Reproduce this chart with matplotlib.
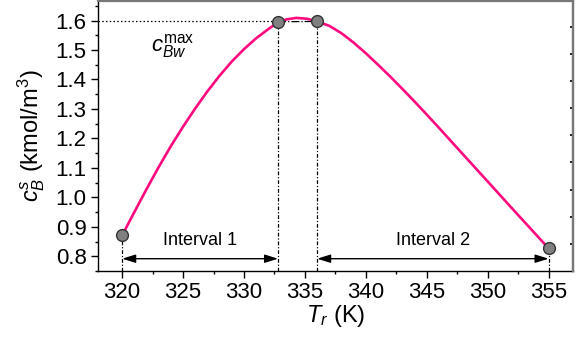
import matplotlib
matplotlib.use("Agg")
import matplotlib.pyplot as plt
from matplotlib.ticker import MultipleLocator

plt.rcParams['font.family'] = ['Liberation Sans', 'DejaVu Sans']
plt.rcParams['mathtext.fontset'] = 'custom'
plt.rcParams['mathtext.rm'] = 'Liberation Sans'
plt.rcParams['mathtext.it'] = 'Liberation Sans:italic'
plt.rcParams['mathtext.bf'] = 'Liberation Sans:bold'

# curve
curve_T = [320.0, 321.0, 322.0, 323.0, 324.0, 325.0, 326.0, 327.0, 328.0, 329.0, 330.0, 331.0,
           332.0, 332.8, 333.5, 334.3, 335.2, 336.0, 337.0, 338.0, 339.0, 340.0, 341.0, 342.0,
           343.0, 344.0, 345.0, 346.0, 347.6, 350.0, 352.5, 355.0]
curve_c = [0.871, 0.950, 1.028, 1.103, 1.174, 1.240, 1.302, 1.360, 1.413, 1.461, 1.503, 1.540,
           1.571, 1.594, 1.604, 1.609, 1.606, 1.597, 1.582, 1.557, 1.525, 1.489, 1.450, 1.410,
           1.368, 1.325, 1.281, 1.236, 1.163, 1.054, 0.940, 0.827]

# marked points
point_T = [320.0, 332.8, 336.0, 355.0]
point_c = [0.871, 1.596, 1.597, 0.827]

c_max = 1.6
arrow_y = 0.792
interval_labels = ["Interval 1", "Interval 2"]
x_ticks = [320, 325, 330, 335, 340, 345, 350, 355]
y_ticks = [0.8, 0.9, 1.0, 1.1, 1.2, 1.3, 1.4, 1.5, 1.6]

fig = plt.figure(figsize=(5.82, 3.38), dpi=100)
ax = fig.add_axes([0.168, 0.198, 0.8165, 0.8005])
xmin, xmax = 318, 357
ymin, ymax = 0.75, 1.668
ax.set_xlim(xmin, xmax)
ax.set_ylim(ymin, ymax)

pink = '#FF0A7F'
ax.plot(curve_T, curve_c, color=pink, lw=1.9, zorder=3, solid_joinstyle='round')

# reference lines
ax.plot([xmin, point_T[1]], [c_max, c_max], color='black', lw=0.9, ls=(0, (1.2, 1.8)), zorder=2)
ax.plot([point_T[1], point_T[2]], [point_c[1], point_c[2]], color='black', lw=0.9, ls='-.', zorder=2)
for t, c in zip(point_T, point_c):
    ax.plot([t, t], [ymin, c], color='black', lw=0.9, ls=(0, (3, 1.5, 1, 1.5)), zorder=2)

ax.plot(point_T, point_c, ls='none', marker='o', ms=8.5, mfc='#808080', mec='#333333', mew=1.0, zorder=4)

# interval arrows
for (a, b), lab in zip([(point_T[0], point_T[1]), (point_T[2], point_T[3])], interval_labels):
    ax.annotate('', xy=(b, arrow_y), xytext=(a, arrow_y),
                arrowprops=dict(arrowstyle='<|-|>,head_length=0.8,head_width=0.25',
                                color='black', lw=1.0, shrinkA=0, shrinkB=0))
    ax.text((a + b) / 2, arrow_y + 0.032, lab, ha='center', va='bottom', fontsize=13)

ax.text(322.4, 1.495, r'$c_{Bw}^{\mathrm{max}}$', fontsize=16, ha='left', va='baseline')

ax.set_xticks(x_ticks)
ax.set_yticks(y_ticks)
ax.set_yticklabels([f'{v:.1f}' for v in y_ticks])
ax.xaxis.set_minor_locator(MultipleLocator(2.5))
ax.yaxis.set_minor_locator(MultipleLocator(0.05))
ax.tick_params(axis='both', which='major', direction='out', length=5, width=1, labelsize=16, pad=3)
ax.tick_params(axis='both', which='minor', direction='out', length=2.5, width=1)
ax.tick_params(top=False, right=False)

ax.set_xlabel(r'$T_r$ (K)', fontsize=17, labelpad=0)
ax.set_ylabel(r'$c_B^s$ (kmol/m$^3$)', fontsize=17, labelpad=6)

for s in ['left', 'bottom']:
    ax.spines[s].set_linewidth(1.0)
for s in ['top', 'right']:
    ax.spines[s].set_linewidth(1.6)
    ax.spines[s].set_color('#777777')

ax2 = ax.twinx()
ax2.set_ylim(0, 9.963)
ax2.set_yticks(range(1, 10))
ax2.tick_params(axis='y', direction='in', length=2.5, width=1.2, labelright=False, color='black')
ax2.spines['right'].set_linewidth(1.6)
ax2.spines['right'].set_color('#777777')
for s in ['left', 'top', 'bottom']:
    ax2.spines[s].set_visible(False)

fig.savefig('out.png', dpi=100)
